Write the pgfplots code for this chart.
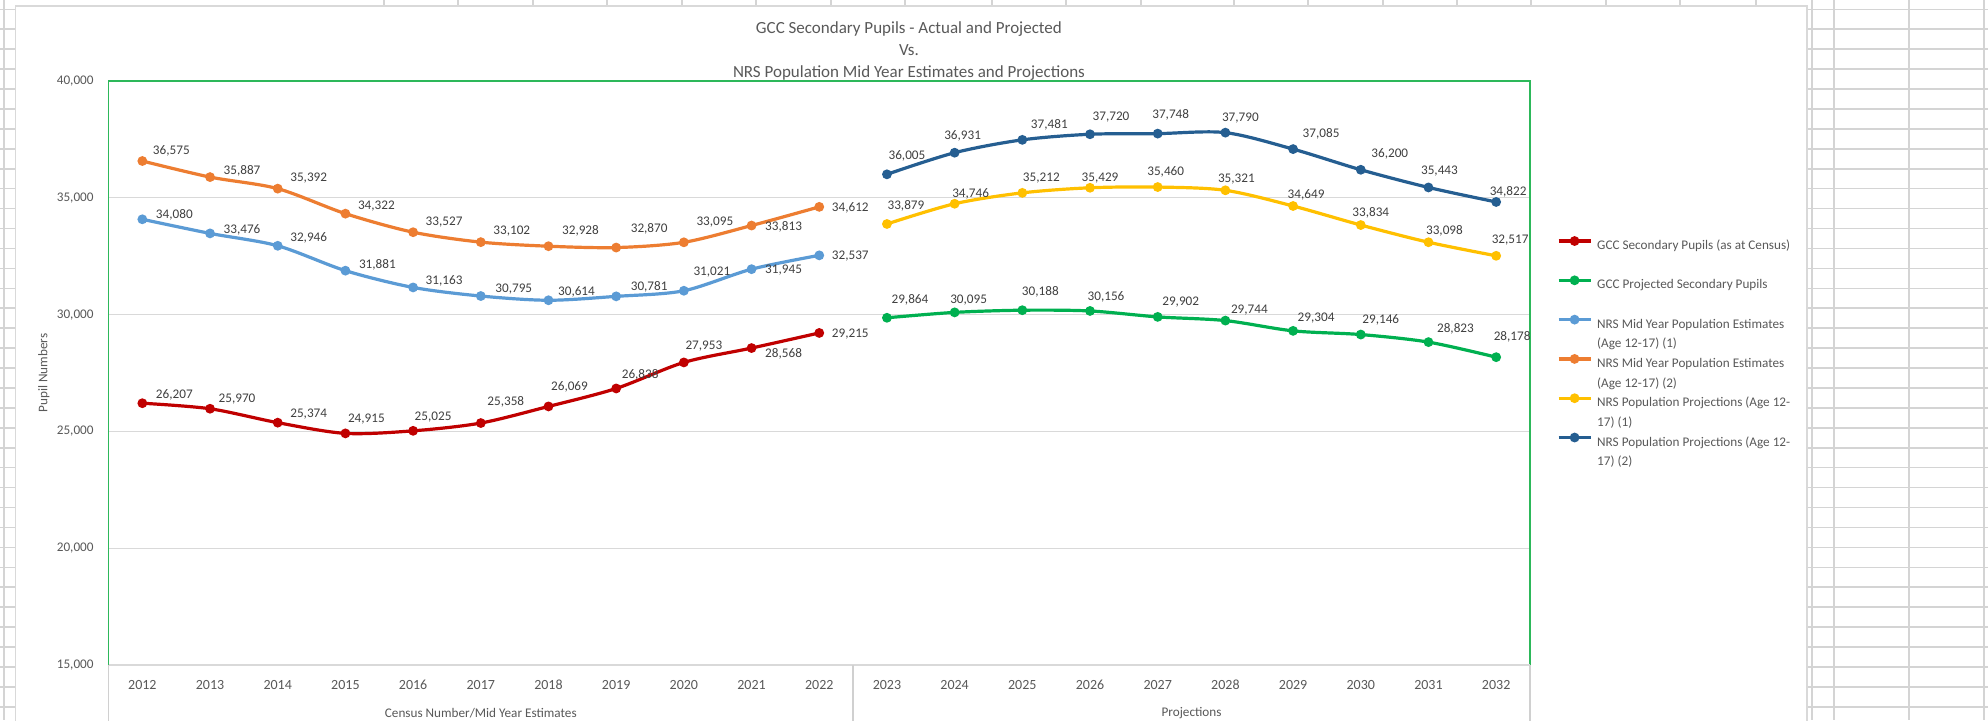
\documentclass[border=0pt]{standalone}
\usepackage{fontspec}
\setmainfont{Carlito}
\usepackage{pgfplots}
\usepackage{pgfplotstable}
\pgfplotsset{compat=1.18}
\definecolor{cRed}{HTML}{C00000}
\definecolor{cGreen}{HTML}{00B050}
\definecolor{cLBlue}{HTML}{5B9BD5}
\definecolor{cOrange}{HTML}{ED7D31}
\definecolor{cYellow}{HTML}{FFC000}
\definecolor{cDBlue}{HTML}{255E91}
\definecolor{borderGreen}{HTML}{2DB85A}
\definecolor{gridC}{HTML}{D9D9D9}
\definecolor{sepC}{HTML}{D0D0D0}
\definecolor{xlGrid}{HTML}{D4D4D4}
\definecolor{titleC}{HTML}{595959}
\definecolor{labelC}{HTML}{404040}

\pgfplotstableread{
x y dx dy
0 26207 32 -8
1 25970 27 -10
2 25374 31 -9
3 24915 21 -14
4 25025 20 -14
5 25358 25 -21
6 26069 21 -20
7 26838 24 -14
8 27953 20 -16
9 28568 32 6
10 29215 31 1
}\tRed
\pgfplotstableread{
x y dx dy
11 29864 23 -18
12 30095 14 -12
13 30188 18 -18
14 30156 16 -14
15 29902 23 -15
16 29744 24 -11
17 29304 23 -13
18 29146 20 -15
19 28823 27 -13
20 28178 16 -20
}\tGreen
\pgfplotstableread{
x y dx dy
0 34080 32 -4
1 33476 32 -4
2 32946 31 -8
3 31881 32 -6
4 31163 31 -7
5 30795 33 -7
6 30614 28 -8
7 30781 33 -10
8 31021 28 -19
9 31945 32 1
10 32537 31 1
}\tLBlue
\pgfplotstableread{
x y dx dy
0 36575 29 -10
1 35887 32 -6
2 35392 31 -11
3 34322 31 -8
4 33527 31 -10
5 33102 31 -11
6 32928 32 -15
7 32870 33 -19
8 33095 31 -20
9 33813 32 1
10 34612 31 1
}\tOrange
\pgfplotstableread{
x y dx dy
11 33879 19 -18
12 34746 16 -10
13 35212 19 -15
14 35429 10 -10
15 35460 8 -15
16 35321 11 -11
17 34649 13 -11
18 33834 10 -12
19 33098 16 -11
20 32517 14 -16
}\tYellow
\pgfplotstableread{
x y dx dy
11 36005 20 -18
12 36931 8 -17
13 37481 27 -15
14 37720 21 -17
15 37748 13 -19
16 37790 15 -15
17 37085 28 -15
18 36200 29 -16
19 35443 11 -16
20 34822 12 -10
}\tDBlue

\pgfplotsset{
  ser/.style={color=#1, line width=1.6pt, smooth, mark=*, mark size=1.6pt,
    mark options={solid, fill=#1},
    nodes near coords,
    visualization depends on={\thisrow{dx}\as\dx},
    visualization depends on={\thisrow{dy}\as\dy},
    nodes near coords style={anchor=center, inner sep=0pt,
      font=\fontsize{6.6}{8}\selectfont, text=labelC,
      xshift={0.5pt*\dx}, yshift={-0.5pt*\dy}}},
}

\begin{document}
\begin{tikzpicture}
\useasboundingbox (0,0) rectangle (994pt,360pt);
\begin{scope}[x=0.5pt,y=-0.5pt,yshift=360pt]
  \fill[white] (0,0) rectangle (1988,720);
  \foreach \r in {0,...,36} \draw[xlGrid, line width=0.8pt] (0,9.3+19.93*\r) -- (1988,9.3+19.93*\r);
  \foreach \c in {4,384,458,533,607,682,756,831,905,992,1066,1141,1234,1308,1383,1457,1531,1606,1680,1756,1812,1834,1909,1984}
    \draw[xlGrid, line width=0.8pt] (\c,0) -- (\c,720);
  \filldraw[fill=white, draw=gridC, line width=0.6pt] (15.5,6) rectangle (1807,740);
\end{scope}
\begin{axis}[
  at={(54.25pt,27.5pt)}, anchor=south west, scale only axis,
  width=710.75pt, height=292pt,
  xmin=-0.5, xmax=20.5, ymin=15000, ymax=40000,
  ytick={15000,20000,25000,30000,35000,40000},
  xtick={0,...,20},
  xticklabels={2012,2013,2014,2015,2016,2017,2018,2019,2020,2021,2022,2023,2024,2025,2026,2027,2028,2029,2030,2031,2032},
  scaled y ticks=false,
  /pgf/number format/fixed, /pgf/number format/precision=0,
  /pgf/number format/1000 sep={,}, /pgf/number format/assume math mode=true,
  axis line style={draw=borderGreen, line width=0.75pt},
  major tick length=0pt,
  ymajorgrids, grid style={draw=gridC, line width=0.6pt},
  tick label style={font=\fontsize{6.6}{8}\selectfont, text=titleC},
  yticklabel style={anchor=east, inner sep=0pt, xshift=-7.25pt},
  xticklabel style={anchor=center, inner sep=0pt, yshift=-10pt, font=\fontsize{7}{8}\selectfont},
  clip=false,
  title={GCC Secondary Pupils - Actual and Projected\\Vs.\\NRS Population Mid Year Estimates and Projections},
  title style={at={(axis description cs:0.5631,1.0531)}, anchor=center, align=center, yshift=-6.5pt,
    font=\fontsize{8.5}{11}\selectfont, text=titleC},
  ylabel={Pupil Numbers},
  ylabel style={at={(axis description cs:-0.0454,0.5)}, anchor=center, font=\fontsize{6.6}{8}\selectfont, text=titleC},
  legend style={at={(axis description cs:1,1)}, anchor=north west, xshift=13.3pt, yshift=-78pt,
    draw=none, fill=none, inner sep=0pt, row sep=2.2pt, column sep=2.5pt,
    font=\fontsize{6.6}{8.75}\selectfont, text=titleC,
    nodes={inner sep=0pt}},
  legend cell align=left,
  legend image code/.code={\draw[#1, mark repeat=2, mark phase=2] plot coordinates {(0pt,2pt) (8pt,2pt) (16pt,2pt)};},
]
\addplot[ser=cRed] table[x=x,y=y] {\tRed};
\addlegendentry{\strut GCC Secondary Pupils (as at Census)}
\addlegendimage{empty legend}
\addlegendentry{\strut}
\addplot[ser=cGreen] table[x=x,y=y] {\tGreen};
\addlegendentry{\strut GCC Projected Secondary Pupils}
\addlegendimage{empty legend}
\addlegendentry{\strut}
\addplot[ser=cLBlue] table[x=x,y=y] {\tLBlue};
\addlegendentry{\strut NRS Mid Year Population Estimates}
\addlegendimage{empty legend}
\addlegendentry{\strut(Age 12-17) (1)}
\addplot[ser=cOrange] table[x=x,y=y] {\tOrange};
\addlegendentry{\strut NRS Mid Year Population Estimates}
\addlegendimage{empty legend}
\addlegendentry{\strut(Age 12-17) (2)}
\addplot[ser=cYellow] table[x=x,y=y] {\tYellow};
\addlegendentry{\strut NRS Population Projections (Age 12-}
\addlegendimage{empty legend}
\addlegendentry{\strut17) (1)}
\addplot[ser=cDBlue] table[x=x,y=y] {\tDBlue};
\addlegendentry{\strut NRS Population Projections (Age 12-}
\addlegendimage{empty legend}
\addlegendentry{\strut17) (2)}
\draw[gridC, line width=0.75pt] (axis cs:-0.5,15000) -- (axis cs:20.5,15000);
\draw[sepC, line width=0.75pt] (axis cs:-0.5,15000) -- ++(0pt,-30pt);
\draw[sepC, line width=0.75pt] (axis cs:10.5,15000) -- ++(0pt,-30pt);
\draw[sepC, line width=0.75pt] (axis cs:20.5,15000) -- ++(0pt,-30pt);
\node[font=\fontsize{6.6}{8}\selectfont, text=titleC] at ([yshift=-24pt]axis cs:5,15000) {Census Number/Mid Year Estimates};
\node[font=\fontsize{6.6}{8}\selectfont, text=titleC] at ([yshift=-24pt]axis cs:15.5,15000) {Projections};
\end{axis}
\end{tikzpicture}
\end{document}
